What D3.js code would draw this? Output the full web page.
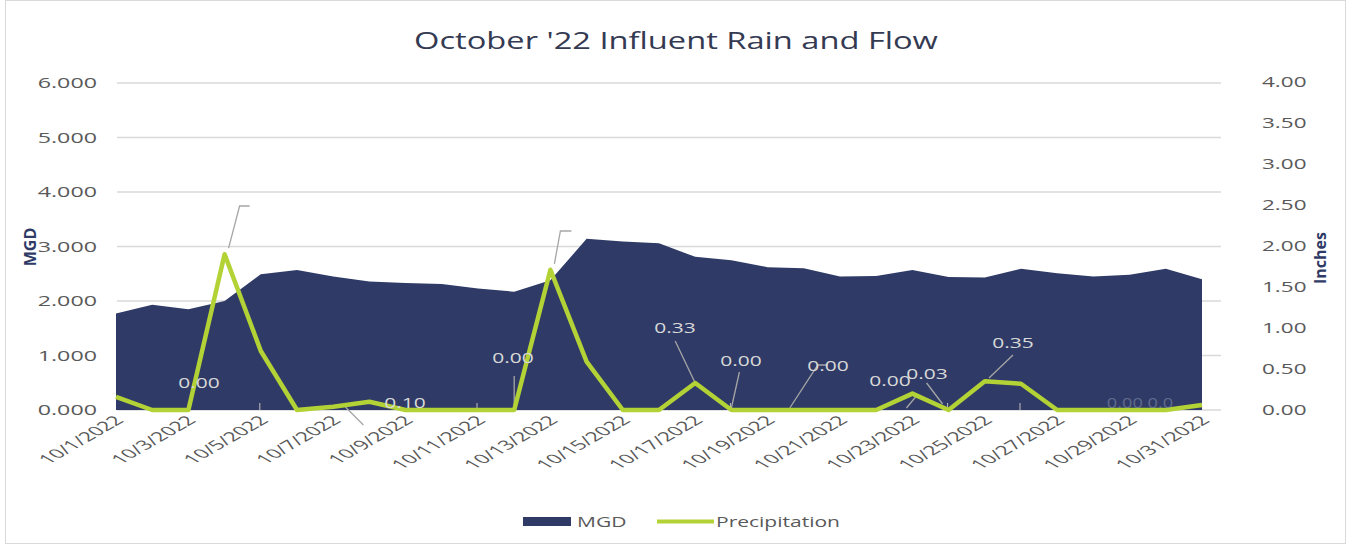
<!DOCTYPE html>
<html><head><meta charset="utf-8">
<script src="https://cdn.jsdelivr.net/npm/d3@7"></script>
<style>
body{margin:0;background:#fff;}
svg text{font-family:"Open Sans","Noto Sans",sans-serif;}
</style></head>
<body><svg id="c" width="1351" height="548"></svg>
<script>
const dates = ["10/1/2022","10/2/2022","10/3/2022","10/4/2022","10/5/2022","10/6/2022","10/7/2022","10/8/2022","10/9/2022","10/10/2022","10/11/2022","10/12/2022","10/13/2022","10/14/2022","10/15/2022","10/16/2022","10/17/2022","10/18/2022","10/19/2022","10/20/2022","10/21/2022","10/22/2022","10/23/2022","10/24/2022","10/25/2022","10/26/2022","10/27/2022","10/28/2022","10/29/2022","10/30/2022","10/31/2022"];
const mgd = [1.77,1.93,1.85,2.00,2.49,2.57,2.45,2.36,2.33,2.31,2.23,2.17,2.38,3.14,3.09,3.06,2.81,2.75,2.62,2.60,2.45,2.46,2.57,2.44,2.43,2.59,2.51,2.45,2.48,2.59,2.40];
const precip = [0.16,0.00,0.00,1.90,0.72,0.00,0.04,0.10,0.00,0.00,0.00,0.00,1.71,0.59,0.00,0.00,0.33,0.00,0.00,0.00,0.00,0.00,0.20,0.00,0.35,0.32,0.00,0.00,0.00,0.00,0.06];
const leftTicks = [0,1,2,3,4,5,6];
const rightTicks = [0,0.5,1,1.5,2,2.5,3,3.5,4];
const dataLabels = [
  {i:2, text:"0.00"},
  {i:7, text:"0.10"},
  {i:11, text:"0.00"},
  {i:16, text:"0.33"},
  {i:17, text:"0.00"},
  {i:19, text:"0.00"},
  {i:22, text:"0.00"},
  {i:23, text:"0.03"},
  {i:24, text:"0.35"}
];

const svg = d3.select("#c");
const navy = "#2f3b66", green = "#b3d236";
function stretch(sel, f){
  sel.each(function(){
    const w = this.getComputedTextLength();
    d3.select(this).attr("textLength", w*f).attr("lengthAdjust","spacingAndGlyphs");
  });
}
svg.append("rect").attr("x",5.5).attr("y",0.5).attr("width",1340).attr("height",543)
  .attr("fill","#fff").attr("stroke","#d9d9d9").attr("stroke-width",1);

const x = d3.scalePoint().domain(d3.range(dates.length)).range([116,1202]);
const yL = d3.scaleLinear().domain([0,6]).range([410,83]);
const yR = d3.scaleLinear().domain([0,4]).range([410,82]);

svg.append("g").selectAll("line").data(leftTicks).join("line")
  .attr("x1",117).attr("x2",1221).attr("y1",d=>yL(d)).attr("y2",d=>yL(d))
  .attr("stroke","#d9d9d9").attr("stroke-width",1.5);

const area = d3.area().x((d,i)=>x(i)).y0(yL(0)).y1(d=>yL(d));
svg.append("path").datum(mgd).attr("d",area).attr("fill",navy);

const leaders = [
  [[x(3)+4,yR(1.90)-6],[x(3)+15,206],[x(3)+25,206]],
  [[x(12)+4,yR(1.71)-6],[x(12)+10,231],[x(12)+21,231]],
  [[x(7)-24,407],[x(7)-6,425]],
  [[x(11),376],[x(11),409]],
  [[x(16)-20,341],[x(16),383]],
  [[x(17)+8,372],[x(17),408]],
  [[x(19)-14,408],[x(19)+14,365],[x(19)+24,365]],
  [[x(22)+4,396],[x(22)-6,408]],
  [[x(23)-22,383],[x(23)-6,404]],
  [[x(25)-8,355],[x(25)-32,378]]
];
svg.append("g").selectAll("path").data(leaders).join("path")
  .attr("d",d=>d3.line()(d)).attr("fill","none").attr("stroke","#a6a6a6").attr("stroke-width",1.3);
const stubs = [4,10,17,23,25];
svg.append("g").selectAll("line").data(stubs).join("line")
  .attr("x1",d=>x(d)-1).attr("x2",d=>x(d)-1).attr("y1",403).attr("y2",410)
  .attr("stroke","#bfbfbf").attr("stroke-width",1);

const line = d3.line().x((d,i)=>x(i)).y(d=>yR(d));
svg.append("path").datum(precip).attr("d",line).attr("fill","none")
  .attr("stroke",green).attr("stroke-width",4.5).attr("stroke-linejoin","round");

const labelPos = {2:[199,383],7:[405,403],11:[513,358],16:[675,328],17:[741,361],19:[828,366],22:[890,381],23:[927,374],24:[1013,343]};
const dl = svg.append("g").selectAll("text").data(dataLabels).join("text")
  .attr("x",d=>labelPos[d.i][0]).attr("y",d=>labelPos[d.i][1]).attr("dy","0.35em")
  .attr("text-anchor","middle").attr("font-size",15).attr("fill","#d9d9d9").text(d=>d.text);
stretch(dl,1.4);
const faint = svg.append("text").attr("x",1140).attr("y",408).attr("text-anchor","middle").attr("font-size",14)
  .attr("fill","#7f8aa8").attr("opacity",0.6).text("0.00 0.0");
stretch(faint,1.3);

const gL = svg.append("g").attr("transform","translate(97,0)")
  .call(d3.axisLeft(yL).tickValues(leftTicks).tickFormat(d3.format(".3f")).tickSize(0).tickPadding(0));
gL.select(".domain").remove();
gL.selectAll("text").attr("font-size",15).attr("fill","#595959").attr("font-family","Open Sans");
stretch(gL.selectAll("text"),1.55);
const gR = svg.append("g").attr("transform","translate(1262,0)")
  .call(d3.axisRight(yR).tickValues(rightTicks).tickFormat(d3.format(".2f")).tickSize(0).tickPadding(0));
gR.select(".domain").remove();
gR.selectAll("text").attr("font-size",15).attr("fill","#595959").attr("font-family","Open Sans");
stretch(gR.selectAll("text"),1.5);

const xl = svg.append("g");
xl.selectAll("text").data(d3.range(0,dates.length,2)).join("text")
  .attr("transform",d=>`translate(${x(d)+3},${418}) scale(1.75,1) rotate(-45)`)
  .attr("text-anchor","end").attr("dy","0.35em").attr("font-size",13).attr("fill","#595959")
  .text(d=>dates[d]);

svg.append("text").attr("transform","translate(36,247) rotate(-90)").attr("text-anchor","middle")
  .attr("font-size",16).attr("font-weight","bold").attr("fill","#2f3b66")
  .attr("font-family","Liberation Sans Narrow, Liberation Sans").text("MGD");
svg.append("text").attr("transform","translate(1326,258) rotate(-90)").attr("text-anchor","middle")
  .attr("font-size",16).attr("font-weight","bold").attr("fill","#2f3b66")
  .attr("font-family","Liberation Sans Narrow, Liberation Sans").text("Inches");

const title = svg.append("text").attr("x",676).attr("y",49).attr("text-anchor","middle")
  .attr("font-size",24).attr("fill","#343a52").text("October '22 Influent Rain and Flow");
stretch(title,1.36);

const lg = svg.append("g");
lg.append("rect").attr("x",523).attr("y",517).attr("width",48).attr("height",9).attr("fill",navy);
const t1 = lg.append("text").attr("x",577).attr("y",522).attr("dy","0.35em").attr("font-size",15).attr("fill","#595959").text("MGD");
lg.append("line").attr("x1",657).attr("x2",714).attr("y1",521.5).attr("y2",521.5).attr("stroke",green).attr("stroke-width",4);
const t2 = lg.append("text").attr("x",716).attr("y",522).attr("dy","0.35em").attr("font-size",15).attr("fill","#595959").text("Precipitation");
stretch(t1,1.4); stretch(t2,1.4);
</script></body></html>
